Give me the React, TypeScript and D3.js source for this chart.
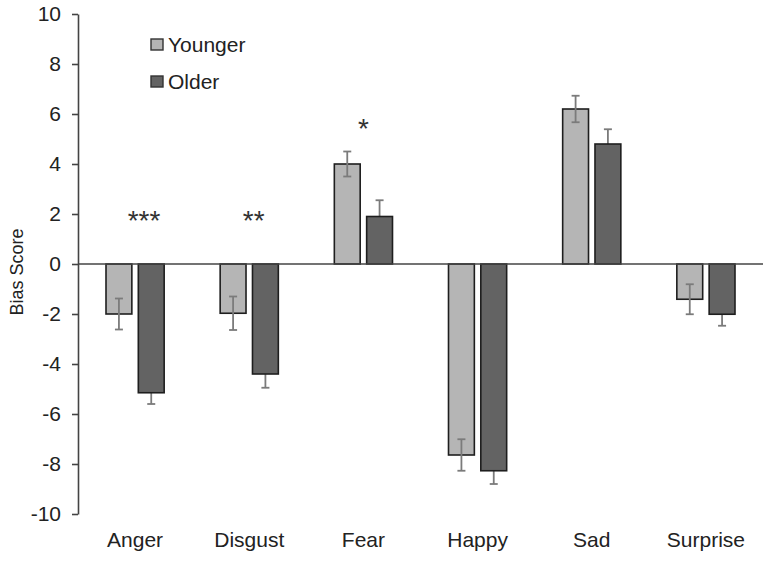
import * as d3 from 'd3';
import * as React from 'react';

const categories = ['Anger', 'Disgust', 'Fear', 'Happy', 'Sad', 'Surprise'];
const youngerValues = [-2.0, -1.97, 4.0, -7.64, 6.2, -1.41];
const olderValues = [-5.15, -4.4, 1.9, -8.27, 4.8, -2.01];
const youngerErrors = [0.62, 0.67, 0.5, 0.63, 0.53, 0.6];
const olderErrors = [0.45, 0.55, 0.65, 0.53, 0.59, 0.46];
const significance = ['***', '**', '*', '', '', ''];
const significanceLevel = [2.0, 2.0, 5.7, 0, 0, 0];
const yTicks = [-10, -8, -6, -4, -2, 0, 2, 4, 6, 8, 10];
const seriesNames = ['Younger', 'Older'];

const FONT = '"Liberation Sans", Arial, sans-serif';
const LIGHT = '#b5b5b5';
const DARK = '#636363';
const TEXT = '#222';

const BiasChart = () => {
  const ref = React.useRef<SVGSVGElement | null>(null);

  const drawChart = () => {
    if (!ref.current) return;
    const width = 768;
    const height = 561;
    const svg = d3.select(ref.current);
    svg.selectAll('*').remove();
    svg.attr('width', width).attr('height', height);

    const margin = { top: 14, right: 5, bottom: 47, left: 78 };

    const y = d3.scaleLinear().domain([-10, 10]).range([height - margin.bottom, margin.top]);
    const x = d3.scaleBand().domain(categories).range([margin.left, width - margin.right]);
    const inner = d3.scaleBand().domain(seriesNames).range([28, x.bandwidth() - 28]).paddingInner(0.2);

    // y axis
    const yAxis = svg
      .append('g')
      .attr('transform', `translate(${margin.left},0)`)
      .call(d3.axisLeft(y).tickValues(yTicks).tickSize(6).tickSizeOuter(0).tickPadding(11).tickFormat((d) => String(d)));
    yAxis.select('.domain').attr('stroke', '#444').attr('stroke-width', 1.6);
    yAxis.selectAll('.tick line').attr('stroke', '#444').attr('stroke-width', 1.6);
    yAxis.selectAll('.tick text').attr('fill', TEXT).style('font-size', '21px').style('font-family', FONT);

    svg
      .append('text')
      .attr('transform', `translate(23,${y(0) + 8}) rotate(-90)`)
      .attr('text-anchor', 'middle')
      .attr('fill', TEXT)
      .style('font-size', '18px')
      .style('font-family', FONT)
      .text('Bias Score');

    const errGroup = (vals, errs, key, full) => {
      const g = svg.append('g').attr('stroke', '#7b7b7b').attr('stroke-width', 1.8);
      vals.forEach((v, i) => {
        const cx = x(categories[i]) + inner(key) + inner.bandwidth() / 2;
        const dir = v >= 0 ? 1 : -1;
        const outer = v + dir * errs[i];
        const innerEnd = full ? v - dir * errs[i] : v;
        g.append('line').attr('x1', cx).attr('x2', cx).attr('y1', y(innerEnd)).attr('y2', y(outer));
        g.append('line').attr('x1', cx - 4).attr('x2', cx + 4).attr('y1', y(outer)).attr('y2', y(outer));
        if (full) g.append('line').attr('x1', cx - 4).attr('x2', cx + 4).attr('y1', y(innerEnd)).attr('y2', y(innerEnd));
      });
    };

    errGroup(olderValues, olderErrors, 'Older', false);

    const bars = (vals, key, fill) => {
      svg
        .append('g')
        .selectAll('rect')
        .data(vals)
        .enter()
        .append('rect')
        .attr('x', (d, i) => x(categories[i]) + inner(key))
        .attr('width', inner.bandwidth())
        .attr('y', (d) => y(Math.max(0, d)))
        .attr('height', (d) => Math.abs(y(d) - y(0)))
        .attr('fill', fill)
        .attr('stroke', '#1e1e1e')
        .attr('stroke-width', 1.6);
    };
    bars(youngerValues, 'Younger', LIGHT);
    bars(olderValues, 'Older', DARK);

    errGroup(youngerValues, youngerErrors, 'Younger', true);

    // zero line
    svg
      .append('line')
      .attr('x1', margin.left)
      .attr('x2', width - margin.right)
      .attr('y1', y(0))
      .attr('y2', y(0))
      .attr('stroke', '#444')
      .attr('stroke-width', 1.6);

    // significance stars
    svg
      .append('g')
      .selectAll('text')
      .data(significance)
      .enter()
      .append('text')
      .attr('x', (d, i) => x(categories[i]) + x.bandwidth() / 2 + (d.length - 1) * 4.5)
      .attr('y', (d, i) => y(significanceLevel[i]) + 16)
      .attr('text-anchor', 'middle')
      .attr('fill', '#333')
      .style('font-size', '28px')
      .style('font-family', FONT)
      .text((d) => d);

    // category labels
    svg
      .append('g')
      .selectAll('text')
      .data(categories)
      .enter()
      .append('text')
      .attr('x', (d) => x(d) + x.bandwidth() / 2)
      .attr('y', y(-10) + 33)
      .attr('text-anchor', 'middle')
      .attr('fill', TEXT)
      .style('font-size', '21px')
      .style('font-family', FONT)
      .text((d) => d);

    // legend
    const legend = svg.append('g').attr('transform', 'translate(151,39)');
    seriesNames.forEach((name, i) => {
      const row = legend.append('g').attr('transform', `translate(0,${i * 37})`);
      row
        .append('rect')
        .attr('width', 12)
        .attr('height', 11)
        .attr('fill', i === 0 ? LIGHT : DARK)
        .attr('stroke', '#333')
        .attr('stroke-width', 1.4);
      row
        .append('text')
        .attr('x', 17)
        .attr('y', 12.5)
        .attr('fill', TEXT)
        .style('font-size', '21px')
        .style('font-family', FONT)
        .text(name);
    });
  };

  React.useEffect(() => {
    drawChart();
  }, []);

  return <svg ref={ref} style={{ position: 'absolute', left: 0, top: 0, background: '#fff' }} />;
};

export default function App() {
  return <BiasChart />;
}
